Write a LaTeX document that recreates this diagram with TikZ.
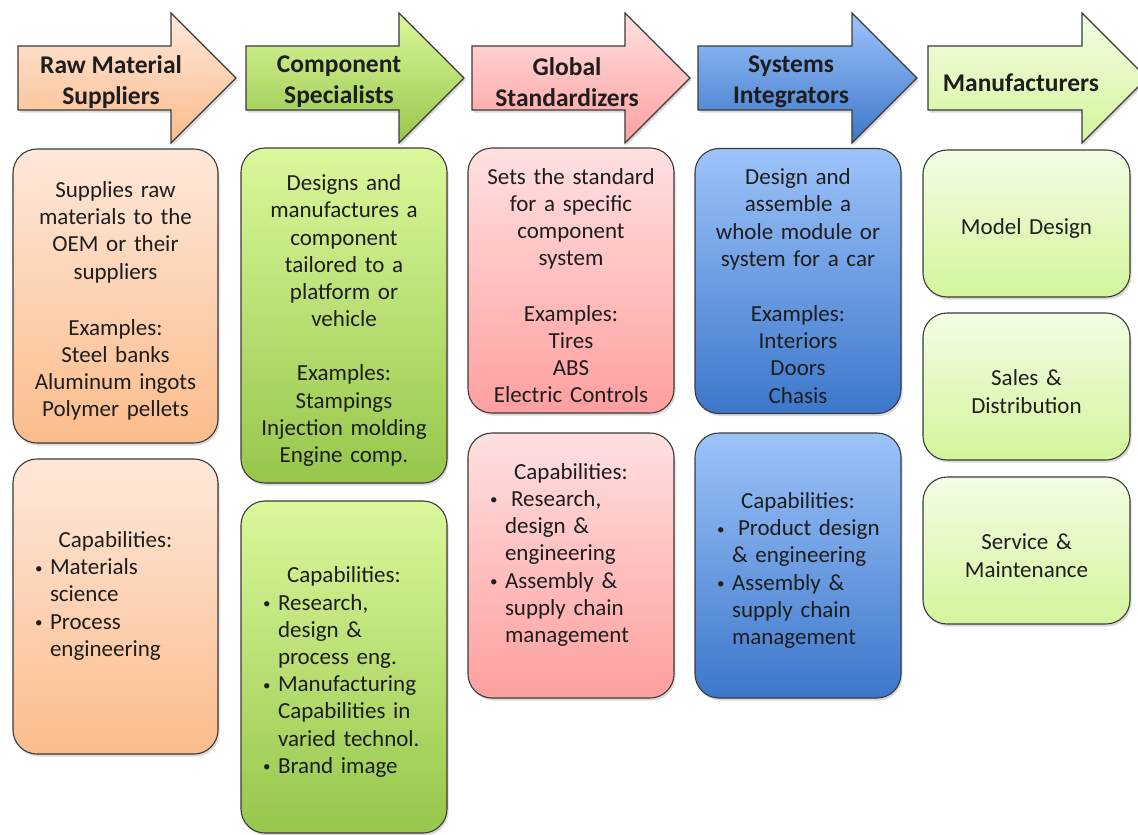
\documentclass[tikz,border=0pt]{standalone}
\usepackage{fontspec}
\setmainfont{Carlito}
\usepackage{tikz}
\usetikzlibrary{shadows}

\definecolor{rawtop}{HTML}{FEE8DA}
\definecolor{rawbot}{HTML}{FBBC8B}
\definecolor{comptop}{HTML}{DBF89C}
\definecolor{compbot}{HTML}{97C64B}
\definecolor{stdtop}{HTML}{FFE0E0}
\definecolor{stdbot}{HTML}{FF9F9F}
\definecolor{systop}{HTML}{9DC3FA}
\definecolor{sysbot}{HTML}{3C77CA}
\definecolor{mantop}{HTML}{F3FDE4}
\definecolor{manbot}{HTML}{D3F59B}
\definecolor{edge}{HTML}{3A3A3A}
\definecolor{ink}{HTML}{1E1E1E}

\newcommand{\bodyfont}{\fontsize{23}{27.2}\selectfont}
\newcommand{\headfont}{\fontsize{25.5}{31}\selectfont\bfseries}
\newcommand{\capline}{\hspace*{\fill}Capabilities:\hspace*{\fill}\mbox{}}
\newcommand{\dotmark}{\raisebox{1.5pt}{\fontsize{15}{15}\selectfont\textbullet}}
\newcommand{\bitem}[1]{\hspace*{22pt}\makebox[15pt][l]{\dotmark}#1}
\newcommand{\bcont}[1]{\hspace*{37pt}#1}

\tikzset{
  rawfill/.style={top color=rawtop,bottom color=rawbot},
  compfill/.style={top color=comptop,bottom color=compbot},
  stdfill/.style={top color=stdtop,bottom color=stdbot},
  sysfill/.style={top color=systop,bottom color=sysbot},
  manfill/.style={top color=mantop,bottom color=manbot},
  shade box/.style={drop shadow={shadow xshift=1.5pt,shadow yshift=-2.5pt,opacity=.3}},
}

\begin{document}
\begin{tikzpicture}[x=1pt,y=-1pt,line join=round,
  banner/.style={draw=edge,line width=1.1pt,line join=miter,shade box},
  title/.style={font=\headfont,align=center,text=ink},
  card/.style={draw=edge,line width=1.1pt,rounded corners=24pt,shade box,
    text width=#1,inner xsep=0pt,inner ysep=4pt,align=center,text=ink,font=\bodyfont,
    execute at begin node={\rule{0pt}{26pt}}},
  card/.default=205pt,
  capcard/.style={card=#1,align=left},
  capcard/.default=205pt]
\useasboundingbox (0,0) rectangle (1138,835);

% arrows along the top
\draw[banner,rawfill] (18,46) -- (171,46) -- (171,13) -- (236,78) -- (171,143) -- (171,110) -- (18,110) -- cycle;
\draw[banner,compfill] (246,46) -- (399,46) -- (399,13) -- (464,78) -- (399,143) -- (399,110) -- (246,110) -- cycle;
\draw[banner,stdfill] (472,46) -- (625,46) -- (625,13) -- (690,78) -- (625,143) -- (625,110) -- (472,110) -- cycle;
\draw[banner,sysfill] (698,46) -- (852,46) -- (852,13) -- (917,78) -- (852,143) -- (852,110) -- (698,110) -- cycle;
\draw[banner,manfill] (928,46) -- (1082,46) -- (1082,13) -- (1147,78) -- (1082,143) -- (1082,110) -- (928,110) -- cycle;

\node[title] (rawhead) at (111,82) {Raw Material\\Suppliers};
\node[title] (comphead) at (339,82) {Component\\Specialists};
\node[title] (stdhead) at (567,82) {Global\\Standardizers};
\node[title] (syshead) at (791,82) {Systems\\Integrators};
\node[title] (manhead) at (1021,83) {Manufacturers};

% raw material suppliers
\node[card,rawfill,minimum height=294pt] (rawdesc) at (115.5,296)
  {Supplies raw\\materials to the\\OEM or their\\suppliers\\[29pt]Examples:\\Steel banks\\Aluminum ingots\\Polymer pellets};
\node[capcard,rawfill,minimum height=295pt] (rawcap) at (115.5,606.5)
  {\capline\\ \bitem{Materials}\\ \bcont{science}\\ \bitem{Process}\\ \bcont{engineering}\\ \strut};

% component specialists
\node[card=206pt,compfill,minimum height=335pt] (compdesc) at (344,315.5)
  {Designs and\\manufactures a\\component\\tailored to a\\platform or\\vehicle\\[27pt]Examples:\\Stampings\\Injection molding\\Engine comp.};
\node[capcard=206pt,compfill,minimum height=332pt] (compcap) at (344,667)
  {\capline\\ \bitem{Research,}\\ \bcont{design \&}\\ \bcont{process eng.}\\ \bitem{Manufacturing}\\ \bcont{Capabilities in}\\ \bcont{varied technol.}\\ \bitem{Brand image}};

% global standardizers
\node[card=206pt,stdfill,minimum height=265pt] (stddesc) at (571,280.5)
  {Sets the standard\\for a specific\\component\\system\\[28pt]Examples:\\Tires\\ABS\\Electric Controls};
\node[capcard=206pt,stdfill,minimum height=265pt] (stdcap) at (571,565.5)
  {\capline\\ \bitem{\hspace{6pt}Research,}\\ \bcont{design \&}\\ \bcont{engineering}\\ \bitem{Assembly \&}\\ \bcont{supply chain}\\ \bcont{management}\\ \strut};

% systems integrators
\node[card=206pt,sysfill,minimum height=265pt] (sysdesc) at (798,281)
  {Design and\\assemble a\\whole module or\\system for a car\\[28pt]Examples:\\Interiors\\Doors\\Chasis};
\node[capcard=206pt,sysfill,minimum height=265pt] (syscap) at (798,565.5)
  {\capline\\ \bitem{\hspace{6pt}Product design}\\ \bcont{\& engineering}\\ \bitem{Assembly \&}\\ \bcont{supply chain}\\ \bcont{management}};

% manufacturers
\node[card=207pt,manfill,minimum height=147pt] (model) at (1026.5,223.5) {Model Design};
\node[card=207pt,manfill,minimum height=147pt] (sales) at (1026.5,386.5) {Sales \&\\Distribution};
\node[card=207pt,manfill,minimum height=147pt] (service) at (1026.5,550.5) {Service \&\\Maintenance};
\end{tikzpicture}
\end{document}
